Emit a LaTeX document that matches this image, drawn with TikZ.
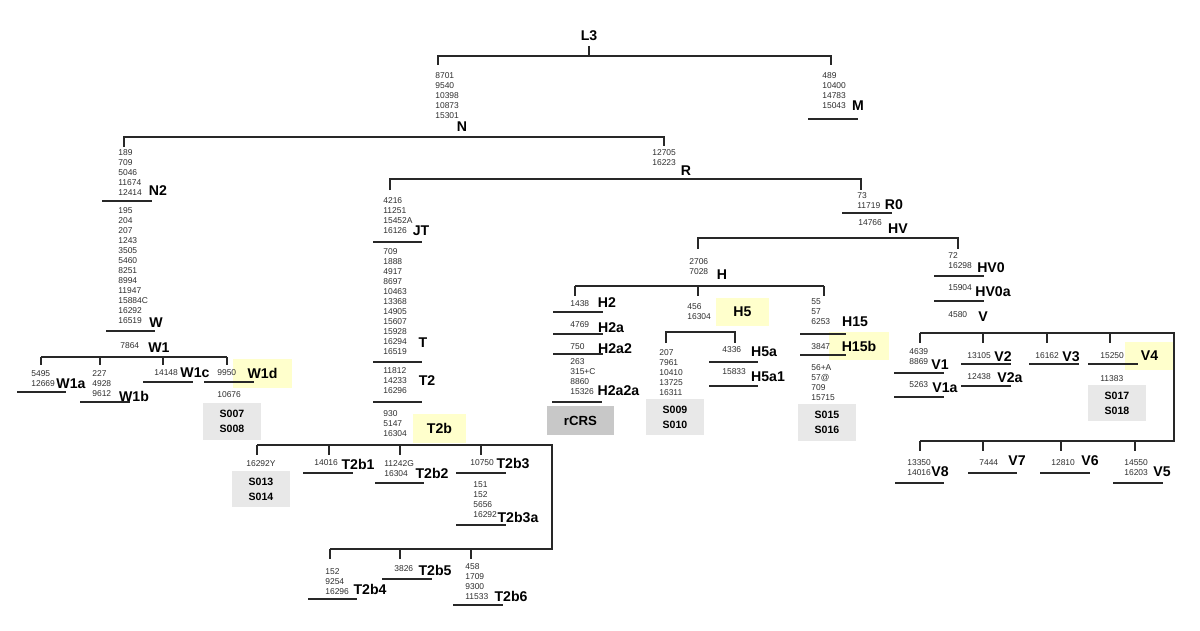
\documentclass[tikz,border=0pt]{standalone}
\usepackage{fontspec}
\setmainfont{Liberation Sans}
\usetikzlibrary{positioning}
\definecolor{lineGray}{RGB}{40,40,40}
\definecolor{numGray}{RGB}{45,45,45}
\definecolor{hlYellow}{RGB}{255,255,204}
\definecolor{sampleGray}{RGB}{232,232,232}
\definecolor{refGray}{RGB}{200,200,200}

\begin{document}
\begin{tikzpicture}[
  x=0.567pt, y=-0.567pt,
  mut/.style={font=\fontsize{4.8}{5.67}\selectfont, text=numGray,
    align=left, anchor=west, inner sep=0pt},
  hap/.style={font=\fontsize{8}{9}\selectfont\bfseries, inner sep=0pt},
  hapbox/.style={hap, fill=hlYellow, minimum width=#1, minimum height=16pt},
  hapbox/.default=30pt,
  sample/.style={font=\fontsize{6}{8.5}\selectfont\bfseries, fill=sampleGray,
    align=left, minimum width=33pt, minimum height=20.5pt, inner sep=0pt},
  br/.style={lineGray, line width=0.85pt},
  ul/.style={lineGray, line width=0.75pt}
]
  \useasboundingbox (0,0) rectangle (1200,631);

  % highlight and sample boxes
  \node[hapbox=33.5pt] (W1d) at (262.5,373.5) {W1d};
  \node[hapbox=30pt] (T2b) at (439.5,428.5) {T2b};
  \node[hapbox=30pt] (H5) at (742.5,312) {H5};
  \node[hapbox=34pt] (H15b) at (859,346) {H15b};
  \node[hapbox=27.8pt] (V4) at (1149.5,356) {V4};
  \node[sample] (s007) at (232,421.5) {S007\\[0pt]S008};
  \node[sample] (s013) at (261,489) {S013\\[0pt]S014};
  \node[sample] (s009) at (675,417) {S009\\[0pt]S010};
  \node[sample] (s015) at (827,422.5) {S015\\[0pt]S016};
  \node[sample] (s017) at (1117,403) {S017\\[0pt]S018};
  \node[hap, fill=refGray, font=\fontsize{7.5}{9}\selectfont\bfseries,
    minimum width=38pt, minimum height=16.4pt] (rCRS) at (580.5,420.5) {rCRS};

  % root
  \node[hap] (L3) at (589,36) {L3};
  \node[mut] (mN) at (435,96) {8701\\9540\\10398\\10873\\15301};
  \node[hap] (N) at (462,127) {N};
  \node[mut] (mM) at (822,90.5) {489\\10400\\14783\\15043};
  \node[hap] (M) at (858,106) {M};

  % N2 / W
  \node[mut] (mN2) at (118,173) {189\\709\\5046\\11674\\12414};
  \node[hap] (N2) at (158,191) {N2};
  \node[mut] (mW) at (118,265.5) {195\\204\\207\\1243\\3505\\5460\\8251\\8994\\11947\\15884C\\16292\\16519};
  \node[hap] (W) at (156,323) {W};
  \node[mut] (mW1) at (120,346) {7864};
  \node[hap] (W1) at (159,348) {W1};
  \node[mut] (mW1a) at (31,378.5) {5495\\12669};
  \node[hap] (W1a) at (71,384) {W1a};
  \node[mut] (mW1b) at (92,384) {227\\4928\\9612};
  \node[hap] (W1b) at (134,396) {W1b};
  \node[mut] (mW1c) at (154,373) {14148};
  \node[hap] (W1c) at (195,373) {W1c};
  \node[mut] (mW1d) at (217,373) {9950};
  \node[mut] (mW1dx) at (217,395) {10676};

  % R / JT / T
  \node[mut] (mR) at (652,158) {12705\\16223};
  \node[hap] (R) at (686,171) {R};
  \node[mut] (mJT) at (383,216) {4216\\11251\\15452A\\16126};
  \node[hap] (JT) at (421,231) {JT};
  \node[mut] (mT) at (383,302) {709\\1888\\4917\\8697\\10463\\13368\\14905\\15607\\15928\\16294\\16519};
  \node[hap] (T) at (423,343) {T};
  \node[mut] (mT2) at (383,381) {11812\\14233\\16296};
  \node[hap] (T2) at (427,381) {T2};
  \node[mut] (mT2b) at (383,423.5) {930\\5147\\16304};
  \node[mut] (mS013) at (246,464) {16292Y};
  \node[mut] (mT2b1) at (314,463) {14016};
  \node[hap] (T2b1) at (358,464) {T2b1};
  \node[mut] (mT2b2) at (384,468.5) {11242G\\16304};
  \node[hap] (T2b2) at (432,473) {T2b2};
  \node[mut] (mT2b3) at (470,463) {10750};
  \node[hap] (T2b3) at (513,463) {T2b3};
  \node[mut] (mT2b3a) at (473,500) {151\\152\\5656\\16292};
  \node[hap] (T2b3a) at (518,517) {T2b3a};
  \node[mut] (mT2b4) at (325,581.5) {152\\9254\\16296};
  \node[hap] (T2b4) at (370,589) {T2b4};
  \node[mut] (mT2b5) at (394,569) {3826};
  \node[hap] (T2b5) at (435,570) {T2b5};
  \node[mut] (mT2b6) at (465,582) {458\\1709\\9300\\11533};
  \node[hap] (T2b6) at (511,596) {T2b6};

  % R0 / HV / H
  \node[mut] (mR0) at (857,201) {73\\11719};
  \node[hap] (R0) at (894,205) {R0};
  \node[mut] (mHV) at (858,223) {14766};
  \node[hap] (HV) at (898,229) {HV};
  \node[mut] (mH) at (689,267) {2706\\7028};
  \node[hap] (H) at (722,275) {H};
  \node[mut] (mH2) at (570,304) {1438};
  \node[hap] (H2) at (607,303) {H2};
  \node[mut] (mH2a) at (570,325) {4769};
  \node[hap] (H2a) at (611,328) {H2a};
  \node[mut] (mH2a2) at (570,347) {750};
  \node[hap] (H2a2) at (615,349) {H2a2};
  \node[mut] (mH2a2a) at (570,377) {263\\315+C\\8860\\15326};
  \node[hap] (H2a2a) at (618.5,391) {H2a2a};
  \node[mut] (mH5) at (687,312) {456\\16304};
  \node[mut] (mS009) at (659,373) {207\\7961\\10410\\13725\\16311};
  \node[mut] (mH5a) at (722,350) {4336};
  \node[hap] (H5a) at (764,352) {H5a};
  \node[mut] (mH5a1) at (722,372) {15833};
  \node[hap] (H5a1) at (768,377) {H5a1};
  \node[mut] (mH15) at (811,312) {55\\57\\6253};
  \node[hap] (H15) at (855,322) {H15};
  \node[mut] (mH15b) at (811,347) {3847};
  \node[mut] (mS015) at (811,383) {56+A\\57@\\709\\15715};

  % HV0 / V
  \node[mut] (mHV0) at (948,261) {72\\16298};
  \node[hap] (HV0) at (991,268) {HV0};
  \node[mut] (mHV0a) at (948,288) {15904};
  \node[hap] (HV0a) at (993,292) {HV0a};
  \node[mut] (mV) at (948,315) {4580};
  \node[hap] (V) at (983,317) {V};
  \node[mut] (mV1) at (909,357) {4639\\8869};
  \node[hap] (V1) at (940,365) {V1};
  \node[mut] (mV1a) at (909,385) {5263};
  \node[hap] (V1a) at (945,388) {V1a};
  \node[mut] (mV2) at (967,356) {13105};
  \node[hap] (V2) at (1003,357) {V2};
  \node[mut] (mV2a) at (967,377) {12438};
  \node[hap] (V2a) at (1010,378) {V2a};
  \node[mut] (mV3) at (1035,356) {16162};
  \node[hap] (V3) at (1071,357) {V3};
  \node[mut] (mV4) at (1100,356) {15250};
  \node[mut] (mS017) at (1100,379) {11383};
  \node[mut] (mV8) at (907,468) {13350\\14016};
  \node[hap] (V8) at (940,472) {V8};
  \node[mut] (mV7) at (979,463) {7444};
  \node[hap] (V7) at (1017,461) {V7};
  \node[mut] (mV6) at (1051,463) {12810};
  \node[hap] (V6) at (1090,461) {V6};
  \node[mut] (mV5) at (1124,468) {14550\\16203};
  \node[hap] (V5) at (1162,472) {V5};

  % brackets
  \draw[br] (589,46) -- (589,56);
  \draw[br] (438,65) -- (438,56) -- (831,56) -- (831,65);
  \draw[br] (124,147) -- (124,137) -- (664,137) -- (664,146);
  \draw[br] (41,357) -- (227,357);
  \foreach \x in {41,100,163,227} \draw[br] (\x,357) -- (\x,365);
  \draw[br] (390,190) -- (390,179) -- (861,179) -- (861,190);
  \draw[br] (698,249) -- (698,238) -- (958,238) -- (958,249);
  \draw[br] (575,286) -- (824,286);
  \foreach \x in {575,698,824} \draw[br] (\x,286) -- (\x,296);
  \draw[br] (666,343) -- (666,332) -- (735,332) -- (735,343);
  \draw[br] (920,333) -- (1174,333) -- (1174,441) -- (920,441);
  \foreach \x in {920,983,1047,1110} \draw[br] (\x,333) -- (\x,343);
  \foreach \x in {920,983,1061,1135} \draw[br] (\x,441) -- (\x,451);
  \draw[br] (257,445) -- (552,445) -- (552,549) -- (330,549);
  \foreach \x in {257,329,400,481} \draw[br] (\x,445) -- (\x,455);
  \foreach \x in {330,400,471} \draw[br] (\x,549) -- (\x,559);

  % branch underlines
  \foreach \y/\a/\b in {119/808/858, 201/102/152, 331/106/155, 392/17/66,
      402/80/130, 382/143/193, 382/204/254, 242/373/422, 362/373/422,
      402/373/422, 473/303/353, 483/375/424, 473/456/506, 525/456/506,
      599/308/357, 579/382/432, 605/453/503, 213/842/892, 312/553/603,
      334/553/603, 354/553/603, 402/552/602, 362/709/758, 386/709/758,
      334/800/846, 355/800/846, 276/934/984, 301/934/984, 373/894/944,
      397/894/944, 364/961/1011, 386/961/1011, 364/1029/1079,
      364/1088/1138, 483/895/944, 473/968/1017, 473/1040/1090,
      483/1113/1163}
    \draw[ul] (\a,\y) -- (\b,\y);
\end{tikzpicture}
\end{document}
